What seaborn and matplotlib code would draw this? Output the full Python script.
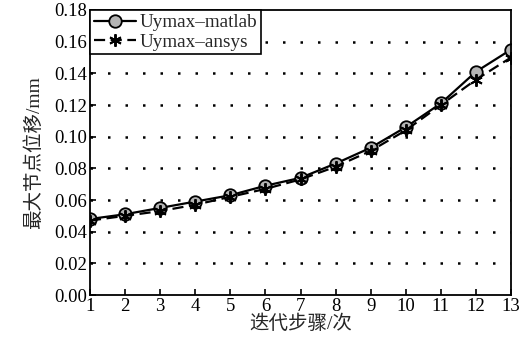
import matplotlib
matplotlib.use("Agg")
import matplotlib.pyplot as plt
import seaborn as sns
import pandas as pd

steps = list(range(1, 14))
uymax_matlab = [0.048, 0.051, 0.055, 0.059, 0.063, 0.069, 0.074, 0.083, 0.093, 0.106, 0.121, 0.141, 0.155]
uymax_ansys = [0.047, 0.050, 0.053, 0.057, 0.062, 0.067, 0.073, 0.081, 0.091, 0.104, 0.120, 0.136, 0.150]
y_ticks = [0.00, 0.02, 0.04, 0.06, 0.08, 0.10, 0.12, 0.14, 0.16, 0.18]

sns.set_theme(style="white")
plt.rcParams['font.family'] = ['Liberation Serif', 'Noto Sans CJK SC', 'DejaVu Sans']

df_m = pd.DataFrame({"step": steps, "val": uymax_matlab})
df_a = pd.DataFrame({"step": steps, "val": uymax_ansys})

fig = plt.figure(figsize=(5.23, 3.38), dpi=100)
ax = fig.add_axes([90/523, 1 - 295/338, (511-90)/523, (295-10)/338])

for yv in y_ticks[1:-1]:
    ax.axhline(yv, color='black', linestyle=(0, (1, 6)), linewidth=1.8, zorder=0)

sns.lineplot(data=df_m, x="step", y="val", ax=ax, color='black', linewidth=1.6,
             marker='o', markersize=9, markerfacecolor='#b4b4b4', markeredgecolor='black',
             markeredgewidth=1.3, label='Uymax\u2013matlab')
sns.lineplot(data=df_a, x="step", y="val", ax=ax, color='black', linewidth=1.6,
             linestyle=(0, (5, 2.5)), marker=(6, 2, 0), markersize=9,
             markeredgecolor='black', markeredgewidth=1.4, label='Uymax\u2013ansys')

ax.set_xlim(1, 13)
ax.set_ylim(0, 0.18)
ax.set_xticks(steps)
ax.set_yticks(y_ticks)
ax.set_yticklabels([f"{v:.2f}" for v in y_ticks])
ax.tick_params(direction='in', length=4, width=1.2, labelsize=13.5, colors='black',
               bottom=True, left=True, pad=2)
for s in ax.spines.values():
    s.set_color('black')
    s.set_linewidth(1.3)

ax.set_xlabel('迭代步骤/次', fontsize=14, labelpad=0)
ax.set_ylabel('最大节点位移/mm', fontsize=14, labelpad=8)

leg = ax.legend(loc='upper left', fontsize=13.8, frameon=True, fancybox=False,
                borderaxespad=0, borderpad=0.2, handlelength=2.2, handletextpad=0.2,
                labelspacing=0.1)
leg.get_frame().set_edgecolor('black')
leg.get_frame().set_linewidth(1.2)
leg.get_frame().set_alpha(1)

fig.savefig('out.png', dpi=100)
